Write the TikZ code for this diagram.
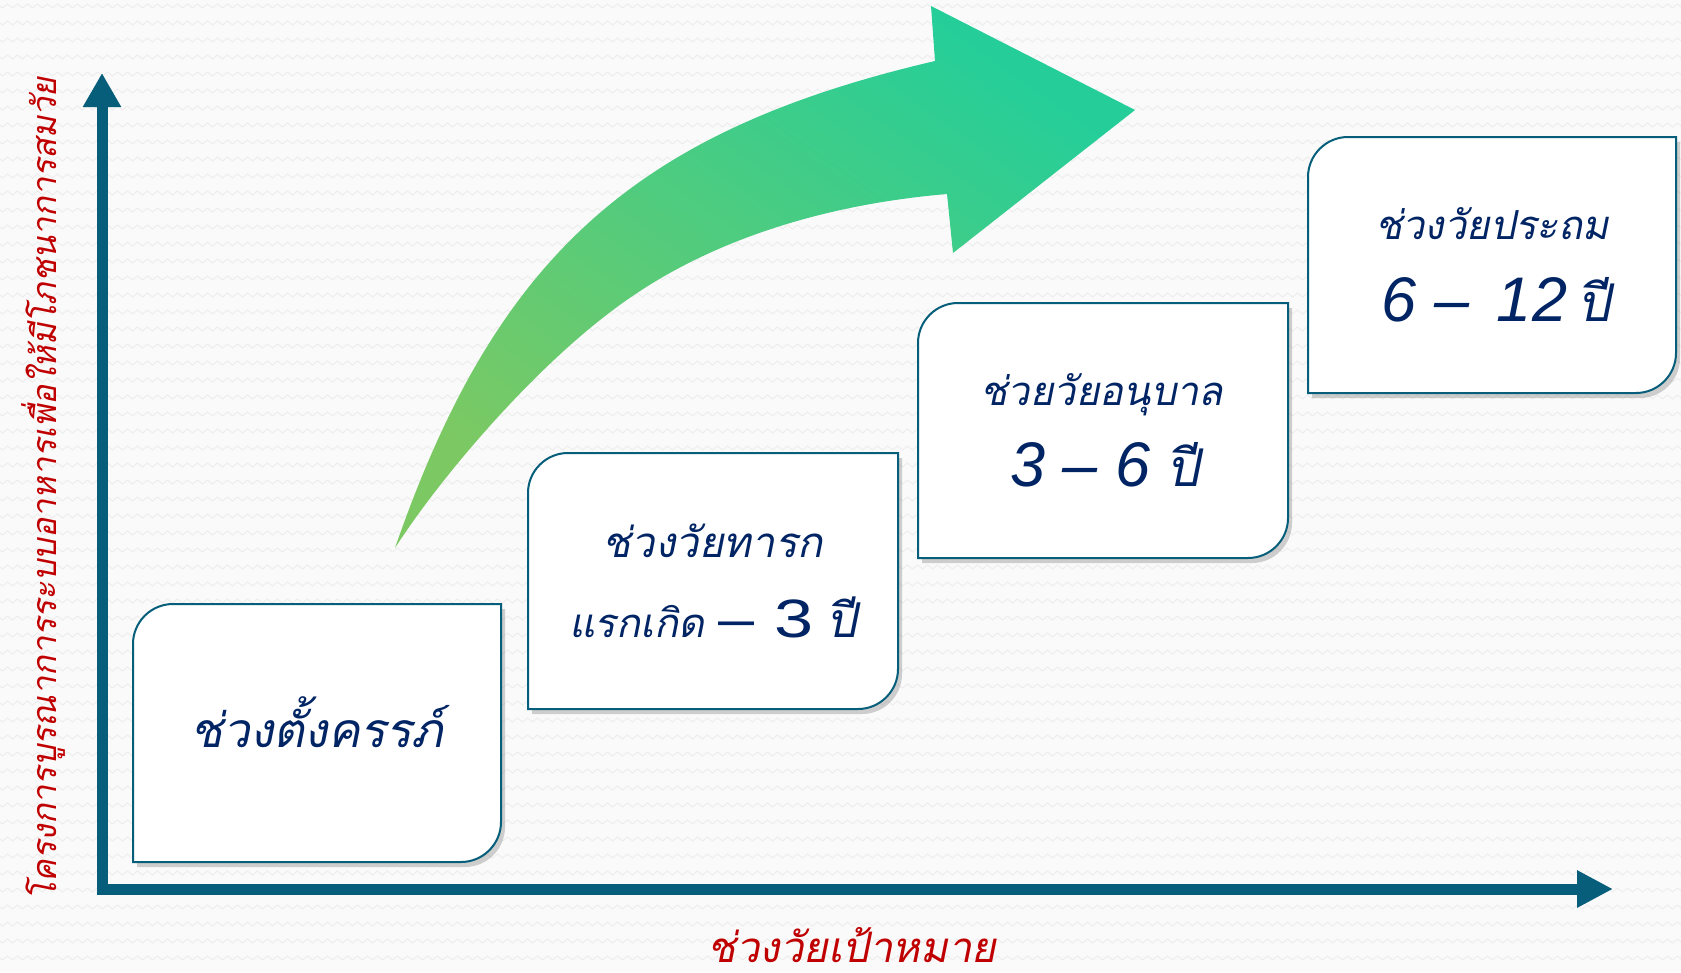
\documentclass[tikz,border=0pt]{standalone}
\usepackage{fontspec}
\setmainfont{Liberation Sans}
\newfontfamily\thai[Script=Thai,FakeSlant=0.2]{Loma}
\usetikzlibrary{arrows.meta,shadows,decorations.pathmorphing}
\definecolor{navy}{RGB}{0,36,100}
\definecolor{axisteal}{RGB}{6,94,122}
\definecolor{labred}{RGB}{192,0,0}
\definecolor{arrowA}{RGB}{124,201,99}
\definecolor{arrowB}{RGB}{37,206,153}
\definecolor{bgcol}{RGB}{250,250,250}
\definecolor{wavecol}{RGB}{237,237,237}
\tikzset{
  boxstyle/.style={draw=axisteal, line width=2pt, fill=white,
    drop shadow={shadow xshift=4pt, shadow yshift=-5pt, opacity=0.3, fill=black!60}},
  boxtext/.style={anchor=base, text=navy, inner sep=0pt},
  axisline/.style={draw=axisteal, line width=11pt, line join=miter,
    {Triangle[width=36pt,length=34pt]}-{Triangle[width=35pt,length=36pt]}},
  axislabel/.style={text=labred, inner sep=0pt},
  bigarrow/.style={top color=arrowB, bottom color=arrowA, shading angle=-35},
  bgwave/.style={draw=wavecol, line width=0.9pt,
    decorate, decoration={zigzag, segment length=10pt, amplitude=2pt}}
}
\newcommand{\stagebox}[4]{%
  \path[boxstyle] (#1,#2+40) .. controls (#1,#2+18) and (#1+18,#2) .. (#1+40,#2)
    -- (#3,#2) -- (#3,#4-40) .. controls (#3,#4-18) and (#3-18,#4) .. (#3-40,#4)
    -- (#1,#4) -- cycle;}
\newcommand{\thsz}[1]{\thai\fontsize{#1}{#1}\selectfont}
\newcommand{\ltsz}[1]{\fontsize{#1}{#1}\selectfont}
\begin{document}
\begin{tikzpicture}[x=1pt,y=-1pt]
\useasboundingbox (0,0) rectangle (1681,972);
\fill[bgcol] (0,0) rectangle (1681,972);
\begin{scope}
\clip (0,0) rectangle (1681,972);
\foreach \yy in {6,23,...,972} {\draw[bgwave] (-5,\yy) -- (1690,\yy);}
\end{scope}

% green curved arrow
\shade[bigarrow] (395,548) .. controls (496,256) and (635,131) .. (935,61)
  -- (931,6) -- (1135,110) -- (953,253) -- (947,194)
  .. controls (830,204) and (708,238) .. (613,310)
  .. controls (530,372) and (440,478) .. (395,548) -- cycle;

% axes
\coordinate (O) at (102,889);
\coordinate (Ytip) at (102,73);
\coordinate (Xtip) at (1613,889);
\draw[axisline] (Ytip) -- (O) -- (Xtip);

% stage boxes
\stagebox{133}{604}{501}{862}
\stagebox{528}{453}{898}{709}
\stagebox{918}{303}{1288}{558}
\stagebox{1308}{137}{1676}{393}

% texts
\node[boxtext, font=\thsz{48}] (t1) at (317,747) {ช่วงตั้งครรภ์};
\node[boxtext, font=\thsz{42}] (t2a) at (713,557) {ช่วงวัยทารก};
\node[boxtext] (t2b) at (713,637) {{\thsz{40}แรกเกิด}\hspace{14pt}{\ltsz{54}\scalebox{1.2}[1]{–}\hspace{20pt}\scalebox{1.3}[1]{3}}\hspace{13pt}{\thsz{48}ปี}};
\node[boxtext, font=\thsz{40}] (t3a) at (1102,405) {ช่วยวัยอนุบาล};
\node[boxtext] (t3b) at (1105,486) {{\ltsz{63}\itshape 3 – 6}\hspace{16pt}{\thsz{52}ปี}};
\node[boxtext, font=\thsz{40}] (t4a) at (1492,239) {ช่วงวัยประถม};
\node[boxtext] (t4b) at (1496,321) {{\ltsz{63}\itshape 6 –\hspace{10pt} 12}\hspace{10pt}{\thsz{52}ปี}};

% axis labels
\node[axislabel, anchor=base, text depth=0pt, font=\thsz{42}] (xlab) at (852,962) {ช่วงวัยเป้าหมาย};
\node[axislabel, anchor=base, rotate=90, font=\thsz{34}] (ylab) at (56,489) {โครงการบูรณาการระบบอาหารเพื่อให้มีโภชนาการสมวัย};
\end{tikzpicture}
\end{document}
